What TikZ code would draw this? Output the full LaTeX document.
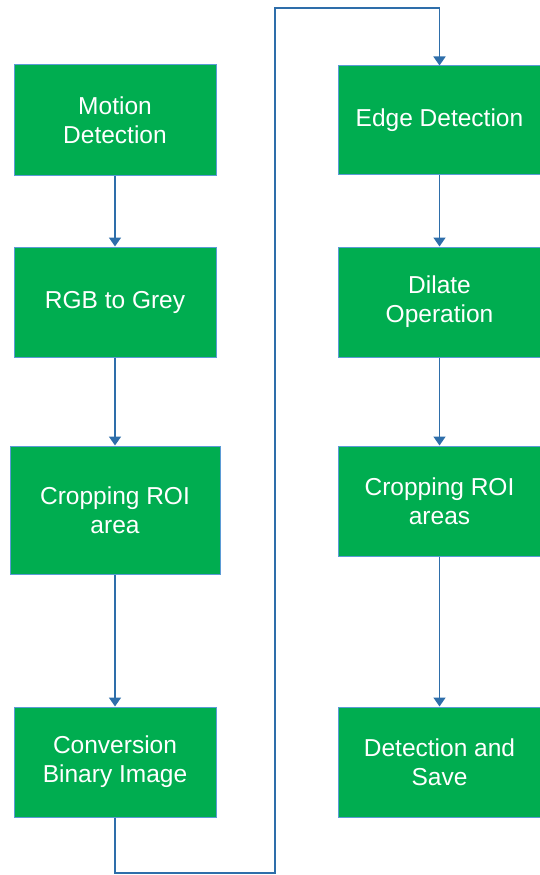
\documentclass[tikz,border=0pt]{standalone}
\usepackage{fontspec}
\setmainfont{Liberation Sans}
\usetikzlibrary{arrows.meta}
\definecolor{boxgreen}{RGB}{0,173,80}
\definecolor{boxedge}{RGB}{91,155,213}
\definecolor{linkblue}{RGB}{46,110,170}
\tikzset{
  stepbox/.style={rectangle, fill=boxgreen, draw=boxedge, line width=1pt,
    text=white, align=center, inner sep=0pt,
    minimum width=202pt, minimum height=110pt,
    font=\fontsize{24.5pt}{29pt}\selectfont},
  link/.style={draw=linkblue, line width=1.6pt, -{Triangle[width=12pt,length=9pt]}}
}
\begin{document}
\begin{tikzpicture}[x=1pt,y=-1pt]
\useasboundingbox (0,0) rectangle (539,875);
\node[stepbox] (m1) at (115,120) {Motion\\Detection};
\node[stepbox] (m2) at (115,302) {RGB to Grey};
\node[stepbox, minimum width=210pt, minimum height=128pt] (m3) at (115,510) {Cropping ROI\\area};
\node[stepbox] (m4) at (115,762) {Conversion\\Binary Image};
\node[stepbox, minimum height=108pt] (r1) at (439.5,120) {Edge Detection};
\node[stepbox] (r2) at (439.5,302) {Dilate\\Operation};
\node[stepbox] (r3) at (439.5,501) {Cropping ROI\\areas};
\node[stepbox] (r4) at (439.5,762) {Detection and\\Save};
\coordinate (lb) at (275,873);
\coordinate (lt) at (275,8);
\draw[link] (m1) -- (m2);
\draw[link] (m2) -- (m3);
\draw[link] (m3) -- (m4);
\draw[link] (r1) -- (r2);
\draw[link] (r2) -- (r3);
\draw[link] (r3) -- (r4);
\draw[link] (m4.south) -- (m4.south |- lb) -- (lb) -- (lt) -- (lt -| r1.north) -- (r1.north);
\end{tikzpicture}
\end{document}
